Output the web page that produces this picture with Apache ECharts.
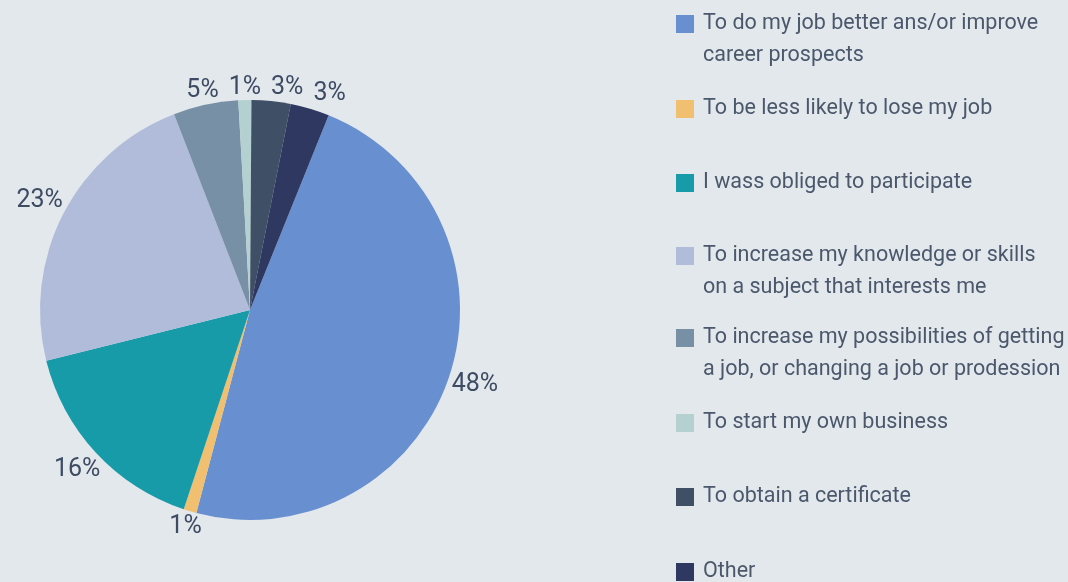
<!DOCTYPE html>
<html>
<head>
<meta charset="utf-8">
<script src="https://cdn.jsdelivr.net/npm/echarts@6/dist/echarts.min.js"></script>
<style>
html,body{margin:0;padding:0;background:#e3e8ed;}
#chart{width:1068px;height:582px;}
</style>
</head>
<body>
<div id="chart"></div>
<script>
const categories = [
  "To do my job better ans/or improve career prospects",
  "To be less likely to lose my job",
  "I wass obliged to participate",
  "To increase my knowledge or skills on a subject that interests me",
  "To increase my possibilities of getting a job, or changing a job or prodession",
  "To start my own business",
  "To obtain a certificate",
  "Other"
];
const legendLabels = [
  "To do my job better ans/or improve\ncareer prospects",
  "To be less likely to lose my job",
  "I wass obliged to participate",
  "To increase my knowledge or skills\non a subject that interests me",
  "To increase my possibilities of getting\na job, or changing a job or prodession",
  "To start my own business",
  "To obtain a certificate",
  "Other"
];
const values = [48, 1, 16, 23, 5, 1, 3, 3];
const colors = ["#6890d0", "#f0c070", "#189ba8", "#b0bcd9", "#7890a6", "#b5d0d0", "#3f4f66", "#2e3860"];
const legendIconY = [24, 109, 183, 256, 338, 423, 497, 572];

const LH = 32;
const FONT = "Roboto";
const CX = 250, CY = 310, R = 210, GAP = 2;

const legends = categories.map((name, i) => {
  const lines = legendLabels[i].split("\n").length;
  const multi = lines > 1;
  const text = multi ? "\n".repeat(lines - 1) + legendLabels[i] : legendLabels[i];
  const total = multi ? (2 * lines - 1) : 1;
  const off = LH * total / 2;
  return {
    data: [name],
    orient: "vertical",
    left: 676,
    top: legendIconY[i] - off,
    padding: 0,
    itemWidth: 18,
    itemHeight: 18,
    icon: "rect",
    selectedMode: false,
    formatter: () => text,
    textStyle: {
      fontFamily: FONT,
      fontSize: 21.5,
      color: "#4b586c",
      lineHeight: LH,
      padding: [0, 0, 0, 4]
    }
  };
});

const pieData = categories.map((n, i) => ({ name: n, value: values[i] }));

const chart = echarts.init(document.getElementById("chart"));
chart.setOption({
  backgroundColor: "#e3e8ed",
  animation: false,
  color: colors,
  legend: legends,
  series: [{
    type: "pie",
    center: [CX, CY],
    radius: R,
    startAngle: 68,
    clockwise: true,
    avoidLabelOverlap: false,
    data: pieData,
    label: {
      show: true,
      position: "inside",
      formatter: "{c}%",
      fontFamily: FONT,
      fontSize: 25,
      color: "#3d4b63",
      minMargin: 10
    },
    // push each label just outside the rim along its slice's direction;
    // the crowded labels at the top are spread apart horizontally
    labelLayout: function (p) {
      const r = p.labelRect;
      const lx = r.x + r.width / 2, ly = r.y + r.height / 2;
      const dx = lx - CX, dy = ly - CY;
      const d = Math.hypot(dx, dy) || 1;
      const ux = dx / d, uy = dy / d;
      // support distance of the glyph box along the radial direction
      const t = Math.abs(ux) * r.width / 2 + Math.abs(uy) * r.height * 0.38;
      const dist = R + GAP + t;
      const top = uy < -0.85;
      return {
        x: CX + ux * dist,
        y: CY + uy * dist,
        align: "center",
        verticalAlign: "middle",
        hideOverlap: false,
        moveOverlap: top ? "shiftX" : null
      };
    },
    labelLine: { show: false },
    itemStyle: { borderWidth: 0 },
    emphasis: { disabled: true }
  }]
});
</script>
</body>
</html>
